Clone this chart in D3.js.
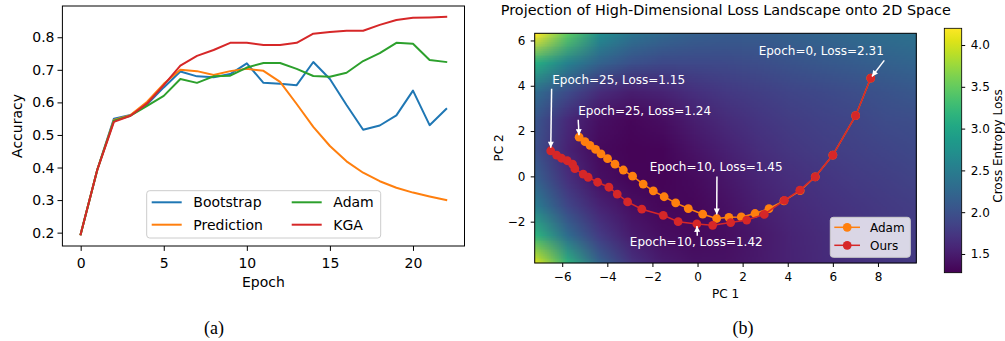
<!DOCTYPE html>
<html><head><meta charset="utf-8">
<script src="https://cdn.jsdelivr.net/npm/d3@7"></script>
<style>body{margin:0;background:#fff} svg{display:block} text{font-family:"DejaVu Sans",sans-serif} text.cap{font-family:"Liberation Serif",serif}</style>
</head><body><svg id="c" width="1005" height="341"></svg>
<script>
// ---------- Panel (a) data ----------
const epochs = [0,1,2,3,4,5,6,7,8,9,10,11,12,13,14,15,16,17,18,19,20,21,22];
const bootstrap = [0.195,0.393,0.550,0.561,0.594,0.646,0.695,0.680,0.677,0.687,0.720,0.660,0.657,0.653,0.724,0.672,0.592,0.516,0.529,0.560,0.636,0.530,0.580];
const prediction = [0.195,0.393,0.546,0.561,0.602,0.657,0.700,0.696,0.684,0.696,0.703,0.697,0.663,0.595,0.525,0.466,0.419,0.384,0.358,0.338,0.323,0.311,0.300];
const adamAcc = [0.195,0.393,0.544,0.559,0.589,0.620,0.672,0.660,0.680,0.682,0.707,0.721,0.721,0.703,0.681,0.679,0.691,0.727,0.751,0.783,0.780,0.730,0.724];
const kga = [0.195,0.393,0.540,0.559,0.597,0.653,0.713,0.743,0.761,0.783,0.783,0.776,0.776,0.783,0.811,0.816,0.820,0.820,0.838,0.853,0.860,0.861,0.863];
const seriesNames = ["Bootstrap","Prediction","Adam","KGA"];
const xTicksA = [0,5,10,15,20];
const yTicksA = [0.2,0.3,0.4,0.5,0.6,0.7,0.8];

// ---------- Panel (b) data ----------
const oursX = [7.68,7.01,6.00,5.22,4.54,3.85,2.96,2.18,1.47,0.67,-0.03,-0.86,-1.52,-2.47,-3.10,-3.56,-3.93,-4.43,-4.85,-5.07,-5.44,-5.54,-5.78,-6.03,-6.25,-6.51];
const oursY = [4.34,2.68,0.94,-0.02,-0.61,-1.06,-1.68,-1.93,-2.04,-2.16,-2.10,-2.00,-1.72,-1.45,-1.13,-0.78,-0.48,-0.26,-0.04,0.10,0.34,0.54,0.69,0.80,0.94,1.13];
const adamX = [7.68,7.01,6.00,5.22,4.55,3.83,3.17,2.55,1.94,1.39,0.85,0.23,-0.41,-0.97,-1.48,-1.96,-2.41,-2.88,-3.29,-3.66,-3.99,-4.28,-4.52,-4.77,-4.99,-5.25];
const adamY = [4.34,2.68,0.94,-0.02,-0.63,-1.08,-1.42,-1.64,-1.79,-1.81,-1.86,-1.67,-1.42,-1.17,-0.90,-0.64,-0.34,0.01,0.28,0.54,0.78,0.99,1.19,1.37,1.53,1.73];
const gridX = [-7.22,-5.81,-4.40,-2.99,-1.58,-0.17,1.24,2.65,4.06,5.47,6.88,8.29,9.70];
const gridY = [6.32,5.05,3.78,2.52,1.25,-0.02,-1.29,-2.56,-3.83];
const lossGrid = [
 [4.20,3.45,2.70,2.40,2.25,2.15,2.12,2.12,2.17,2.22,2.27,2.32,2.37],
 [3.10,2.55,2.20,2.00,1.92,1.92,1.93,1.97,2.02,2.07,2.12,2.17,2.22],
 [2.30,1.95,1.65,1.52,1.57,1.68,1.76,1.82,1.87,1.92,1.97,2.02,2.07],
 [2.05,1.62,1.40,1.33,1.38,1.52,1.64,1.73,1.79,1.85,1.89,1.94,1.97],
 [1.98,1.56,1.35,1.30,1.32,1.43,1.55,1.66,1.74,1.80,1.84,1.88,1.92],
 [2.15,1.67,1.40,1.32,1.30,1.36,1.47,1.58,1.67,1.73,1.78,1.82,1.86],
 [2.50,1.90,1.57,1.40,1.33,1.33,1.41,1.52,1.61,1.68,1.73,1.77,1.81],
 [3.15,2.30,1.78,1.50,1.38,1.35,1.38,1.47,1.57,1.64,1.70,1.75,1.79],
 [4.05,3.15,2.20,1.72,1.50,1.42,1.42,1.48,1.56,1.62,1.68,1.73,1.77]
];
const lossRange = [1.276,4.20];
const xTicksB = [-6,-4,-2,0,2,4,6,8];
const yTicksB = [-2,0,2,4,6];
const cbTicks = [1.5,2.0,2.5,3.0,3.5,4.0];
const annLabels = ["Epoch=0, Loss=2.31","Epoch=25, Loss=1.15","Epoch=25, Loss=1.24","Epoch=10, Loss=1.45","Epoch=10, Loss=1.42"];
const annTargets = [["ours",0],["ours",25],["adam",25],["adam",10],["ours",10]];
const annText = [[2.71,5.35],[-6.44,4.09],[-5.29,2.73],[-2.12,0.22],[-3.0,-3.08]];
const annFrom = [[8.28,5.12],[-6.47,3.87],[-5.29,2.50],[0.86,-0.01],[-0.01,-2.62]];
const annShrink = [2,3,2,4,2];

const svg = d3.select('#c');
svg.append('rect').attr('width',1005).attr('height',341).attr('fill','#fff');
const colors = ['#1f77b4','#ff7f0e','#2ca02c','#d62728'];

// ================= Panel (a) =================
const xA = d3.scaleLinear().domain([-1.1,23.1]).range([62.4,464.5]);
const yA = d3.scaleLinear().domain([0.159,0.896]).range([246,6]);
const gA = svg.append('g');
const lineA = d3.line().x((d,i)=>xA(epochs[i])).y(d=>yA(d));
[bootstrap,prediction,adamAcc,kga].forEach((vals,k)=>{
  gA.append('path').attr('d',lineA(vals)).attr('fill','none').attr('stroke',colors[k]).attr('stroke-width',2).attr('stroke-linejoin','round').attr('stroke-linecap','square');
});
gA.append('rect').attr('x',62.4).attr('y',6).attr('width',464.5-62.4).attr('height',240).attr('fill','none').attr('stroke','#000').attr('stroke-width',1);
const axAx = gA.append('g').attr('transform','translate(0,246)').call(d3.axisBottom(xA).tickValues(xTicksA).tickSize(4.9).tickPadding(7.4).tickFormat(d3.format('d')));
const axAy = gA.append('g').attr('transform','translate(62.4,0)').call(d3.axisLeft(yA).tickValues(yTicksA).tickSize(4.9).tickPadding(3).tickFormat(d3.format('.1f')));
[axAx,axAy].forEach(a=>{a.select('.domain').remove(); a.selectAll('text').attr('font-size',14).attr('font-family','DejaVu Sans').attr('fill','#000'); a.selectAll('line').attr('stroke','#000');});
gA.append('text').attr('x',xA(11)).attr('y',287).attr('text-anchor','middle').attr('font-size',14).text('Epoch');
gA.append('text').attr('transform','translate(22,126) rotate(-90)').attr('text-anchor','middle').attr('font-size',14).text('Accuracy');
// legend
const legA = gA.append('g');
legA.append('rect').attr('x',146.7).attr('y',190.7).attr('width',234).attr('height',47.3).attr('rx',3).attr('fill','#fff').attr('fill-opacity',0.8).attr('stroke','#ccc');
const legPos = [[151.7,202.3],[151.7,224.7],[291.7,202.3],[291.7,224.7]];
seriesNames.forEach((n,k)=>{
  const [lx,ly] = legPos[k];
  legA.append('line').attr('x1',lx).attr('x2',lx+30).attr('y1',ly).attr('y2',ly).attr('stroke',colors[k]).attr('stroke-width',2);
  legA.append('text').attr('x',lx+41.6).attr('y',ly).attr('dy','0.35em').attr('font-size',14).text(n);
});
svg.append('text').attr('class','cap').attr('x',214).attr('y',334).attr('text-anchor','middle').attr('font-size',18).text('(a)');

// ================= Panel (b) =================
const xB = d3.scaleLinear().domain([-7.22,9.70]).range([534.7,916.3]);
const yB = d3.scaleLinear().domain([-3.825,6.316]).range([263,33.3]);
const color = d3.scaleSequential(d3.interpolateViridis).domain(lossRange);
const gB = svg.append('g');
// heatmap via small canvas upscaled smoothly
const nx = gridX.length, ny = gridY.length;
const small = document.createElement('canvas'); small.width = nx; small.height = ny;
const sctx = small.getContext('2d');
lossGrid.forEach((row,j)=>row.forEach((v,i)=>{ sctx.fillStyle = color(v); sctx.fillRect(i,j,1,1); }));
const x0 = xB(gridX[0]), x1 = xB(gridX[nx-1]), y0 = yB(gridY[0]), y1 = yB(gridY[ny-1]);
const W = Math.round(x1-x0), H = Math.round(y1-y0);
const big = document.createElement('canvas'); big.width = W; big.height = H;
const bctx = big.getContext('2d'); bctx.imageSmoothingEnabled = true;
bctx.drawImage(small, 0.5, 0.5, nx-1, ny-1, 0, 0, W, H);
gB.append('image').attr('x',x0).attr('y',y0).attr('width',W).attr('height',H).attr('preserveAspectRatio','none').attr('href',big.toDataURL());

const defs = svg.append('defs');
defs.append('marker').attr('id','ah').attr('viewBox','0 0 10 10').attr('refX',10).attr('refY',5)
  .attr('markerWidth',7).attr('markerHeight',6).attr('markerUnits','userSpaceOnUse').attr('orient','auto')
  .append('path').attr('d','M0,0 L10,5 L0,10 z').attr('fill','#fff');

const lineB = d3.line().x(d=>xB(d[0])).y(d=>yB(d[1]));
const adamPts = adamX.map((x,i)=>[x,adamY[i]]);
const oursPts = oursX.map((x,i)=>[x,oursY[i]]);
[[adamPts,'#ff7f0e'],[oursPts,'#d62728']].forEach(([pts,c])=>{
  gB.append('path').attr('d',lineB(pts)).attr('fill','none').attr('stroke',c).attr('stroke-width',1.5);
  gB.selectAll(null).data(pts).enter().append('circle').attr('cx',d=>xB(d[0])).attr('cy',d=>yB(d[1])).attr('r',4.4).attr('fill',c);
});
// annotations
annLabels.forEach((lab,k)=>{
  const [which,idx] = annTargets[k];
  const tp = which==='ours'?oursPts[idx]:adamPts[idx];
  const sx = xB(annFrom[k][0]), sy = yB(annFrom[k][1]);
  const tx = xB(tp[0]), ty = yB(tp[1]);
  const L = Math.hypot(tx-sx,ty-sy), s = annShrink[k];
  gB.append('line').attr('x1',sx).attr('y1',sy).attr('x2',tx-(tx-sx)/L*s).attr('y2',ty-(ty-sy)/L*s)
    .attr('stroke','#fff').attr('stroke-width',1.5).attr('marker-end','url(#ah)');
  gB.append('text').attr('x',xB(annText[k][0])).attr('y',yB(annText[k][1])).attr('font-size',12).attr('fill','#fff').text(lab);
});
gB.append('rect').attr('x',534.7).attr('y',33.3).attr('width',916.3-534.7).attr('height',263-33.3).attr('fill','none').attr('stroke','#000').attr('stroke-width',1);
const axBx = gB.append('g').attr('transform','translate(0,263)').call(d3.axisBottom(xB).tickValues(xTicksB).tickSize(4).tickPadding(5.5).tickFormat(d3.format('d')));
const axBy = gB.append('g').attr('transform','translate(534.7,0)').call(d3.axisLeft(yB).tickValues(yTicksB).tickSize(4).tickPadding(5.2).tickFormat(d3.format('d')));
[axBx,axBy].forEach(a=>{a.select('.domain').remove(); a.selectAll('text').attr('font-size',12).attr('font-family','DejaVu Sans').attr('fill','#000'); a.selectAll('line').attr('stroke','#000');});
gB.append('text').attr('x',725.5).attr('y',297.5).attr('text-anchor','middle').attr('font-size',12).text('PC 1');
gB.append('text').attr('transform','translate(503,148) rotate(-90)').attr('text-anchor','middle').attr('font-size',12).text('PC 2');
gB.append('text').attr('x',725.8).attr('y',14.5).attr('text-anchor','middle').attr('font-size',14.4).text('Projection of High-Dimensional Loss Landscape onto 2D Space');
// legend b
const legB = gB.append('g');
legB.append('rect').attr('x',830.3).attr('y',217.3).attr('width',80).attr('height',40).attr('rx',3).attr('fill','#fff').attr('fill-opacity',0.8).attr('stroke','#ccc');
[['Adam','#ff7f0e',227.3],['Ours','#d62728',245.3]].forEach(([n,c,ly])=>{
  legB.append('line').attr('x1',834.3).attr('x2',860).attr('y1',ly).attr('y2',ly).attr('stroke',c).attr('stroke-width',1.5);
  legB.append('circle').attr('cx',847.2).attr('cy',ly).attr('r',4.4).attr('fill',c);
  legB.append('text').attr('x',870).attr('y',ly).attr('dy','0.35em').attr('font-size',12).text(n);
});
// colorbar
const yC = d3.scaleLinear().domain(lossRange).range([272.7,28.3]);
const grad = defs.append('linearGradient').attr('id','cbg').attr('x1',0).attr('x2',0).attr('y1',1).attr('y2',0);
d3.range(0,1.0001,0.05).forEach(t=>grad.append('stop').attr('offset',t).attr('stop-color',d3.interpolateViridis(t)));
svg.append('rect').attr('x',944.3).attr('y',28.3).attr('width',17.4).attr('height',272.7-28.3).attr('fill','url(#cbg)').attr('stroke','#000').attr('stroke-width',0.8);
const axC = svg.append('g').attr('transform','translate(961.7,0)').call(d3.axisRight(yC).tickValues(cbTicks).tickSize(3.5).tickPadding(5.5).tickFormat(d3.format('.1f')));
axC.select('.domain').remove(); axC.selectAll('text').attr('font-size',12).attr('font-family','DejaVu Sans').attr('fill','#000'); axC.selectAll('line').attr('stroke','#000');
svg.append('text').attr('transform','translate(1002,146) rotate(-90)').attr('text-anchor','middle').attr('font-size',12).text('Cross Entropy Loss');
svg.append('text').attr('class','cap').attr('x',743).attr('y',334).attr('text-anchor','middle').attr('font-size',18).text('(b)');
</script></body></html>
